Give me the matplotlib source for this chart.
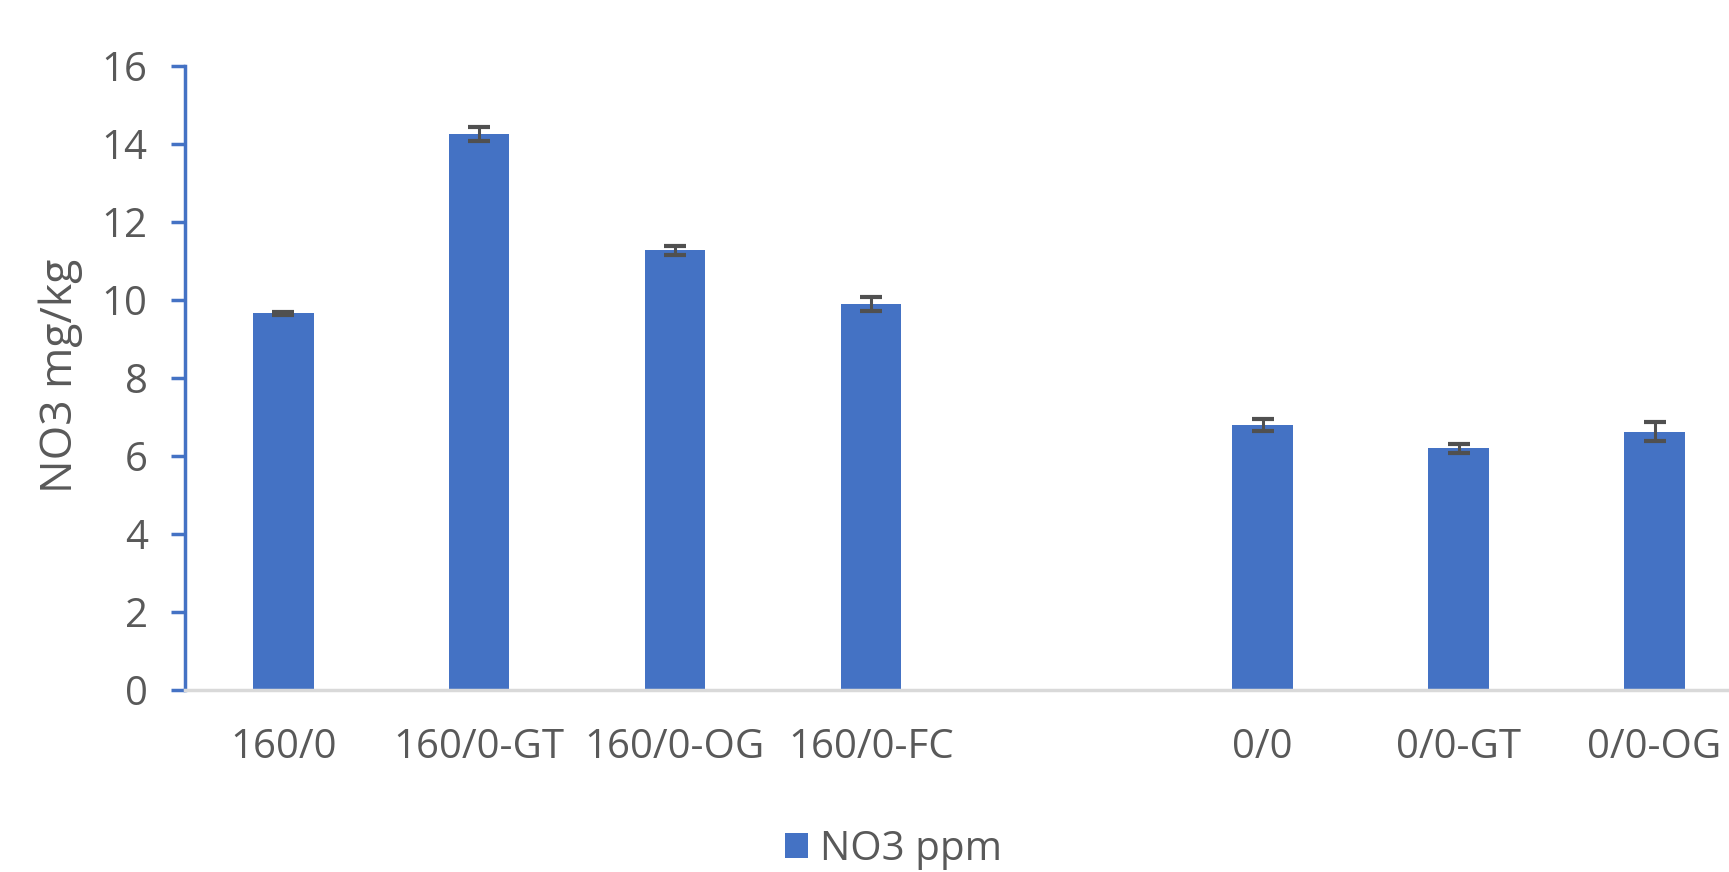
import numpy as np
import matplotlib
matplotlib.use("Agg")
import matplotlib.pyplot as plt
from matplotlib.patches import Patch

# data (one empty slot separates the two groups)
categories = ["160/0", "160/0-GT", "160/0-OG", "160/0-FC", "", "0/0", "0/0-GT", "0/0-OG"]
no3_ppm = [9.66, 14.26, 11.28, 9.90, np.nan, 6.80, 6.20, 6.63]
no3_err = [0.04, 0.18, 0.12, 0.17, np.nan, 0.15, 0.11, 0.25]
series_name = "NO3 ppm"
y_label = "NO3 mg/kg"

bar_color = "#4472C4"
text_color = "#595959"

plt.rcParams["font.family"] = ["Open Sans", "DejaVu Sans"]

fig = plt.figure(figsize=(17.29, 8.72), dpi=100)
ax = fig.add_axes([0.1071, 0.2086, 0.8929, 0.7155])

x = np.arange(len(categories))
vals = np.array(no3_ppm, dtype=float)
errs = np.array(no3_err, dtype=float)
mask = ~np.isnan(vals)

ax.bar(x[mask], vals[mask], width=0.31, color=bar_color, zorder=2)
ax.errorbar(x[mask], vals[mask], yerr=errs[mask], fmt="none", ecolor="#505050",
            elinewidth=2.2, capsize=8, capthick=3, zorder=3)

ax.set_xlim(-0.5, 7.38)
ax.set_ylim(0, 16)
ax.set_yticks(np.arange(0, 17, 2))
ax.set_xticks(x)
ax.set_xticklabels(categories)

for side in ["top", "right"]:
    ax.spines[side].set_visible(False)
ax.spines["left"].set_color(bar_color)
ax.spines["left"].set_linewidth(2.5)
ax.spines["bottom"].set_color("#D9D9D9")
ax.spines["bottom"].set_linewidth(2.5)

ax.tick_params(axis="y", colors=bar_color, length=10, width=2.5, pad=17,
               labelsize=29, labelcolor=text_color)
ax.tick_params(axis="x", length=0, pad=27, labelsize=29, labelcolor=text_color)

ax.set_ylabel(y_label, color=text_color, va="center")
ax.yaxis.label.set_fontsize(32)
ax.yaxis.set_label_coords(-0.0806, 0.503)

handle = Patch(facecolor=bar_color, edgecolor="none")
fig.legend([handle], [series_name], loc="center", bbox_to_anchor=(0.5166, 0.026),
           frameon=False, fontsize=29, labelcolor=text_color,
           handlelength=0.58, handleheight=0.58, handletextpad=0.28)

fig.savefig("out.png", dpi=100)
